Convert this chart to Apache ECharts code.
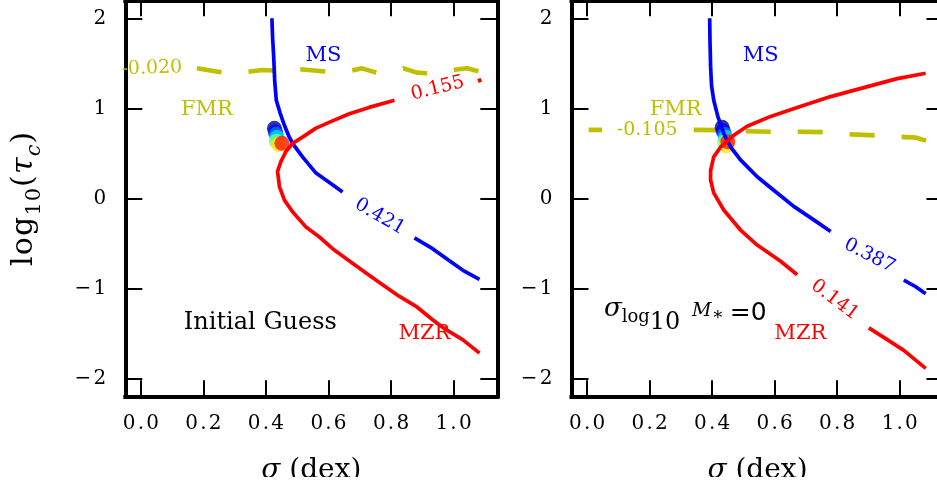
<!DOCTYPE html>
<html>
<head>
<meta charset="utf-8">
<script src="https://cdn.jsdelivr.net/npm/echarts@6/dist/echarts.min.js"></script>
<style>
  html, body { margin: 0; padding: 0; background: #fff; }
  #chart { width: 937px; height: 477px; }
</style>
</head>
<body>
<div id="chart"></div>
<script>
// ---- tick positions ----
const xTicks = [0.0, 0.2, 0.4, 0.6, 0.8, 1.0];
const yTicks = [-2, -1, 0, 1, 2];

// ---- left panel: initial guess ([sigma, log10 tau_c]) ----
const msInitUpper = [[0.419, 2.0], [0.421, 1.8], [0.425, 1.55], [0.428, 1.30], [0.433, 1.09], [0.445, 0.95],
  [0.458, 0.82], [0.472, 0.70], [0.485, 0.61], [0.517, 0.46], [0.56, 0.28], [0.613, 0.15], [0.645, 0.07]];
const msInitLower = [[0.875, -0.44], [0.933, -0.56], [0.997, -0.72], [1.03, -0.80], [1.083, -0.90]];
const mzrInitMain = [[0.811, 1.09], [0.73, 1.01], [0.667, 0.94], [0.613, 0.86], [0.56, 0.78], [0.517, 0.68],
  [0.485, 0.61], [0.464, 0.52], [0.448, 0.41], [0.437, 0.30], [0.443, 0.13], [0.459, -0.02], [0.485, -0.15],
  [0.528, -0.32], [0.571, -0.43], [0.613, -0.56], [0.656, -0.67], [0.72, -0.83], [0.773, -0.96],
  [0.827, -1.09], [0.88, -1.20], [0.933, -1.35], [0.976, -1.46], [1.029, -1.57], [1.083, -1.72]];
const mzrInitTail = [[1.081, 1.33], [1.086, 1.29]];
const fmrInit = [[0.179, 1.444], [0.222, 1.42], [0.264, 1.396], [0.344, 1.407], [0.388, 1.426], [0.435, 1.418],
  [0.51, 1.433], [0.595, 1.407], [0.675, 1.418], [0.707, 1.444], [0.76, 1.389], [0.84, 1.444], [0.883, 1.396],
  [0.92, 1.389], [1.016, 1.433], [1.043, 1.444], [1.086, 1.407]];
const walkInit = [[0.427, 0.778], [0.430, 0.74], [0.433, 0.711], [0.435, 0.678], [0.433, 0.635], [0.440, 0.60],
  [0.451, 0.611]];

// ---- right panel: sigma_log10 M* = 0 ----
const msZeroUpper = [[0.392, 2.0], [0.393, 1.75], [0.395, 1.46], [0.398, 1.25], [0.405, 1.09], [0.418, 0.91],
  [0.437, 0.72], [0.459, 0.57], [0.49, 0.43], [0.544, 0.24], [0.597, 0.09], [0.661, -0.09], [0.725, -0.24],
  [0.779, -0.37]];
const msZeroLower = [[1.013, -0.91], [1.05, -0.98], [1.083, -1.06]];
const mzrZeroUpper = [[1.083, 1.39], [0.992, 1.33], [0.885, 1.23], [0.779, 1.13], [0.672, 1.01], [0.587, 0.91],
  [0.512, 0.80], [0.469, 0.70], [0.427, 0.57], [0.405, 0.46], [0.395, 0.31], [0.395, 0.20], [0.405, 0.06],
  [0.437, -0.13], [0.49, -0.35], [0.544, -0.52], [0.619, -0.70], [0.672, -0.85]];
const mzrZeroLower = [[0.901, -1.44], [0.96, -1.57], [1.013, -1.69], [1.083, -1.89]];
const fmrZeroLeft = [[0.005, 0.76], [0.048, 0.76]];
const fmrZeroRight = [[0.341, 0.76], [0.42, 0.757], [0.51, 0.745], [0.59, 0.74], [0.68, 0.74], [0.75, 0.735],
  [0.848, 0.71], [0.928, 0.698], [1.019, 0.68], [1.05, 0.675], [1.088, 0.637]];
const walkZero = [[0.432, 0.789], [0.435, 0.751], [0.440, 0.711], [0.443, 0.678], [0.440, 0.629], [0.446, 0.585],
  [0.450, 0.629]];

// ---- contour levels ----
const levelsInit = { ms: '0.421', mzr: '0.155', fmr: '-0.020' };
const levelsZero = { ms: '0.387', mzr: '0.141', fmr: '-0.105' };

// ---- styling ----
const SERIF = '"DejaVu Serif", serif';
const SANS = '"DejaVu Sans", sans-serif';
const BLUE = '#0000ff', RED = '#ff0000', OLIVE = '#bfbf00';
const JET = ['#00008f', '#0000ff', '#0070ff', '#00d8ff', '#70ff88', '#ffe800', '#ff1a00'];
const X_MIN = -0.05, X_MAX = 1.14, Y_MIN = -2.2, Y_MAX = 2.2;

const grids = [
  { left: 125.3, top: 0.3, width: 372, height: 396, outerBoundsMode: 'none', containLabel: false },
  { left: 571.5, top: 0.3, width: 372, height: 396, outerBoundsMode: 'none', containLabel: false }
];

const tickStyle = { show: true, inside: true, lineStyle: { color: '#000', width: 2 } };
const lineStyleAxis = { color: '#000', width: 4, cap: 'square' };

// tick labels are set one glyph per rich token so they can be spaced out a little
const spaced = (s, tok) => s.split('').map(c => '{' + (tok || 't') + '|' + c + '}').join('');
const tickRich = { t: { fontSize: 20, fontFamily: SERIF, color: '#000', padding: [0, 1.1, 0, 1.1] } };

// y-axis title: log10(tau_c), subscripts lowered through top padding
const yTitle = spaced('log', 'm') + spaced('10', 's') + '{m|(}{mi|τ}{si|c}{m|)}';
const yTitleRich = {
  m: { fontSize: 30, fontFamily: SERIF, color: '#000', verticalAlign: 'top', padding: [4.5, 1.2, 0, 0] },
  mi: { fontSize: 30, fontFamily: SERIF, fontStyle: 'italic', color: '#000', verticalAlign: 'top', padding: [4.5, 1.2, 0, 0] },
  s: { fontSize: 21, fontFamily: SERIF, color: '#000', verticalAlign: 'top', padding: [20, 1, 0, 0] },
  si: { fontSize: 21, fontFamily: SERIF, fontStyle: 'italic', color: '#000', verticalAlign: 'top', padding: [20, 1, 0, 0] }
};

const xAxes = [], yAxes = [];
grids.forEach((g, gi) => {
  const xb = {
    type: 'value', gridIndex: gi, min: X_MIN, max: X_MAX, splitLine: { show: false },
    axisLine: { show: true, onZero: false, lineStyle: lineStyleAxis },
    axisTick: Object.assign({ length: 16, customValues: xTicks }, tickStyle)
  };
  xAxes.push(Object.assign({}, xb, {
    position: 'bottom',
    axisLabel: { show: true, customValues: xTicks, margin: 17, color: '#000', rich: tickRich,
      formatter: v => spaced(v.toFixed(1)) },
    name: '{i|σ} (dex)', nameLocation: 'middle', nameGap: 60,
    nameTextStyle: { fontSize: 28, fontFamily: SERIF, color: '#000',
      rich: { i: { fontSize: 28, fontFamily: SERIF, fontStyle: 'italic', color: '#000' } } }
  }));
  xAxes.push(Object.assign({}, xb, { position: 'top', axisLabel: { show: false } }));

  const yb = {
    type: 'value', gridIndex: gi, min: Y_MIN, max: Y_MAX, splitLine: { show: false },
    axisLine: { show: true, onZero: false, lineStyle: lineStyleAxis },
    axisTick: Object.assign({ length: 17, customValues: yTicks }, tickStyle)
  };
  const yLeft = Object.assign({}, yb, {
    position: 'left',
    axisLabel: { show: true, customValues: yTicks, margin: 18, color: '#000', rich: tickRich,
      formatter: v => spaced((v < 0 ? '\u2212' : '') + Math.abs(v)) }
  });
  if (gi === 0) {
    Object.assign(yLeft, {
      name: yTitle, nameLocation: 'middle', nameRotate: 90, nameGap: 80,
      nameTextStyle: { color: '#000', rich: yTitleRich }
    });
  }
  yAxes.push(yLeft);
  yAxes.push(Object.assign({}, yb, { position: 'right', axisLabel: { show: false } }));
});

function curve(gi, data, color, dashed) {
  return {
    type: 'line', xAxisIndex: gi * 2, yAxisIndex: gi * 2, data: data,
    symbol: 'none', showSymbol: false, silent: true, z: dashed ? 1 : 3, clip: true,
    lineStyle: { color: color, width: dashed ? 4.6 : 3.7, type: dashed ? [25, 27] : 'solid', cap: 'butt', join: 'round' }
  };
}

function walk(gi, data) {
  return {
    type: 'scatter', xAxisIndex: gi * 2, yAxisIndex: gi * 2, z: 2, silent: true,
    symbolSize: 15,
    data: data.map((p, i) => ({ value: p, itemStyle: { color: JET[i % JET.length] } }))
  };
}

// text placed in data coordinates
function notes(gi, items) {
  return {
    type: 'scatter', xAxisIndex: gi * 2, yAxisIndex: gi * 2, z: 5, silent: true,
    symbolSize: 1, itemStyle: { color: 'rgba(0,0,0,0)' },
    data: items.map(it => ({
      value: it.at, name: it.text,
      label: Object.assign({
        show: true, position: 'inside', formatter: '{b}', color: it.color, opacity: 1,
        textBorderWidth: 0, textShadowBlur: 0,
        fontSize: it.size, fontFamily: SERIF, rotate: it.rotate || 0
      }, it.extra || {})
    }))
  };
}

const sigmaLabel = {
  position: 'right', distance: 0, align: 'left', verticalAlign: 'middle',
  formatter: '{sg|σ}{lg|log}{tn|10}{sp| }{mm|M}{st|∗}{eq|=0}',
  rich: {
    sg: { fontSize: 26, fontFamily: SERIF, fontStyle: 'italic', color: '#000', verticalAlign: 'top', padding: [8, 0, 0, 0] },
    lg: { fontSize: 18, fontFamily: SERIF, color: '#000', verticalAlign: 'top', padding: [20, 0, 0, 0] },
    tn: { fontSize: 24, fontFamily: SERIF, color: '#000', verticalAlign: 'top', padding: [22.6, 0, 0, 0] },
    sp: { fontSize: 18, fontFamily: SERIF, color: '#000', verticalAlign: 'top', padding: [15, 6, 0, 0] },
    mm: { fontSize: 19, fontFamily: SERIF, fontStyle: 'italic', color: '#000', verticalAlign: 'top', padding: [14, 0, 0, 0] },
    st: { fontSize: 18, fontFamily: SERIF, color: '#000', verticalAlign: 'top', padding: [18, 0, 0, 0] },
    eq: { fontSize: 25, fontFamily: SANS, color: '#000', verticalAlign: 'top', padding: [12.8, 0, 0, 6] }
  }
};

const series = [
  walk(0, walkInit),
  curve(0, fmrInit, OLIVE, true),
  curve(0, msInitUpper, BLUE), curve(0, msInitLower, BLUE),
  curve(0, mzrInitMain, RED), curve(0, mzrInitTail, RED),
  notes(0, [
    { at: [0.584, 1.581], text: 'MS', color: BLUE, size: 21 },
    { at: [0.211, 0.989], text: 'FMR', color: OLIVE, size: 21 },
    { at: [0.907, -1.50], text: 'MZR', color: RED, size: 21 },
    { at: [0.382, -1.386], text: 'Initial Guess', color: '#000', size: 24 },
    { at: [0.764, -0.204], text: levelsInit.ms, color: BLUE, size: 19, rotate: -30 },
    { at: [0.949, 1.222], text: levelsInit.mzr, color: RED, size: 19, rotate: 14 },
    { at: [0.035, 1.444], text: levelsInit.fmr, color: OLIVE, size: 19, rotate: 2 }
  ]),

  walk(1, walkZero),
  curve(1, fmrZeroLeft, OLIVE, true), curve(1, fmrZeroRight, OLIVE, true),
  curve(1, msZeroUpper, BLUE), curve(1, msZeroLower, BLUE),
  curve(1, mzrZeroUpper, RED), curve(1, mzrZeroLower, RED),
  notes(1, [
    { at: [0.555, 1.581], text: 'MS', color: BLUE, size: 21 },
    { at: [0.283, 0.989], text: 'FMR', color: OLIVE, size: 21 },
    { at: [0.682, -1.50], text: 'MZR', color: RED, size: 21 },
    { at: [0.903, -0.638], text: levelsZero.ms, color: BLUE, size: 19, rotate: -27 },
    { at: [0.792, -1.13], text: levelsZero.mzr, color: RED, size: 19, rotate: -37 },
    { at: [0.192, 0.759], text: levelsZero.fmr, color: OLIVE, size: 19 },
    { at: [0.052, -1.254], text: 'sigma', color: '#000', size: 22, extra: sigmaLabel }
  ])
];

const chart = echarts.init(document.getElementById('chart'), null, { renderer: 'canvas' });
chart.setOption({
  animation: false,
  backgroundColor: '#fff',
  grid: grids,
  xAxis: xAxes,
  yAxis: yAxes,
  series: series
});
</script>
</body>
</html>
